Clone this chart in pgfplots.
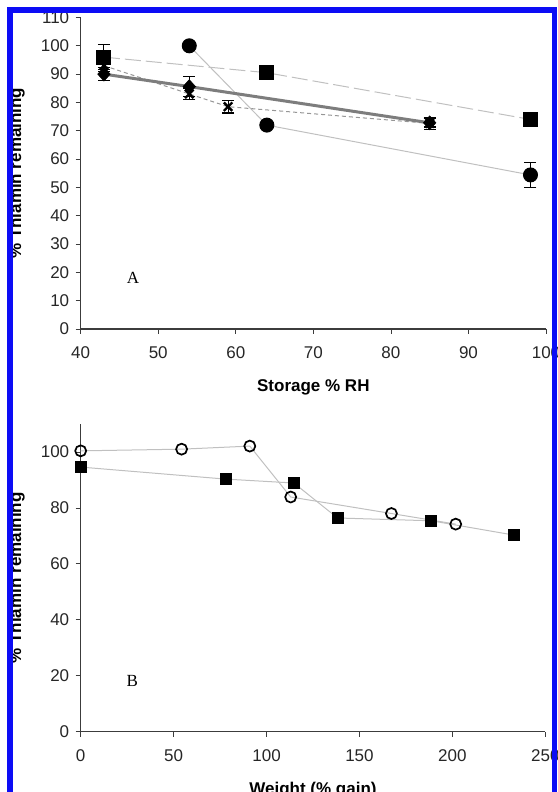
\documentclass[border=0pt]{standalone}
\usepackage{fontspec}
\setmainfont{Liberation Sans}
\newfontfamily\serifA{Liberation Serif}
\usepackage{pgfplots}
\pgfplotsset{compat=1.18}

\definecolor{frameblue}{RGB}{12,12,245}
\definecolor{lgray}{RGB}{192,192,192}
\definecolor{mgray}{RGB}{150,150,150}
\definecolor{dgray}{RGB}{125,125,125}
\definecolor{axgray}{RGB}{60,60,60}

\begin{document}
\begin{tikzpicture}[x=1pt,y=1pt]
\useasboundingbox (0,0) rectangle (557,792);
\clip (0,0) rectangle (557,792);
\pgfplotsset{
  myax/.style={
    scale only axis,
    axis lines=left,
    axis line style={-, axgray, line width=1.1pt},
    tick align=outside,
    major tick length=5pt,
    tick style={axgray, line width=0.8pt},
    ticklabel style={font=\fontsize{17}{19}\selectfont, text=black!85},
    /pgf/number format/assume math mode=true,
    clip=false,
    every axis y label/.style={at={(axis description cs:-0.1283,0.5)}, rotate=90, anchor=base, font=\bfseries\fontsize{17}{20}\selectfont},
    every axis x label/.style={anchor=base, font=\bfseries\fontsize{17}{20}\selectfont},
    xticklabel shift=9pt,
    yticklabel shift=3pt,
  },
  ebar/.style={error bars/.cd, y dir=both, y explicit,
    error bar style={solid, black, line width=1pt},
    error mark options={solid, black, rotate=90, mark size=6pt, line width=1.2pt}},
}

% ---------------- Panel A ----------------
\begin{axis}[myax,
  at={(80.7pt,463pt)}, anchor=south west,
  width=465.3pt, height=311.5pt,
  xmin=40, xmax=100, ymin=0, ymax=110,
  xtick={40,50,...,100}, ytick={0,10,...,110},
  xlabel={Storage \% RH},
  ylabel={\% Thiamin remaining},
  xlabel style={at={(axis description cs:0.5,-0.2022)}},
]
% circles
\addplot[color=lgray, line width=1pt, mark=*, mark size=7pt,
  mark options={fill=black, draw=black}, ebar]
  coordinates {(54,100) +- (0,0) (64,72) +- (0,0) (98,54.4) +- (0,4.3)};
% X series
\addplot[color=mgray, line width=1pt, dash pattern=on 4pt off 3pt,
  mark=x, mark size=6pt,
  mark options={solid, draw=black, line width=2.4pt}, ebar]
  coordinates {(43,93) +- (0,2.1) (54,83) +- (0,2.1) (59,78.5) +- (0,2.2) (85,72.6) +- (0,2.2)};
% squares
\addplot[color=lgray, line width=1pt, dash pattern=on 16pt off 5pt,
  mark=square*, mark size=7pt,
  mark options={solid, fill=black, draw=black}, ebar]
  coordinates {(43,96) +- (0,4.4) (64,90.5) +- (0,0) (98,74) +- (0,0)};
% diamonds
\addplot[color=dgray, line width=3pt,
  mark=diamond*, mark size=7pt,
  mark options={fill=black, draw=black, line width=0.5pt, xscale=1.2}, ebar]
  coordinates {(43,90) +- (0,2.3) (54,85.6) +- (0,3.6) (85,72.8) +- (0,1.5)};
\node[font=\serifA\fontsize{17}{20}\selectfont] at (axis cs:46.74,18.0) {A};
\end{axis}

% ---------------- Panel B ----------------
\begin{axis}[myax,
  at={(80.7pt,60.3pt)}, anchor=south west,
  width=464.6pt, height=307.7pt,
  xmin=0, xmax=250, ymin=0, ymax=110,
  xtick={0,50,...,250}, ytick={0,20,...,100},
  xlabel={Weight (\% gain)},
  ylabel={\% Thiamin remaining},
  xlabel style={at={(axis description cs:0.5,-0.2047)}},
]
\addplot[color=lgray, line width=1pt, mark=square*, mark size=5.5pt,
  mark options={fill=black, draw=black}]
  coordinates {(0,94.6) (78,90.3) (114.7,88.9) (138.2,76.4) (188.7,75.4) (233,70.3)};
\addplot[color=lgray, line width=1pt, mark=o, mark size=5.5pt,
  mark options={draw=black, fill=white, line width=1.7pt}]
  coordinates {(0,100.4) (54.3,101) (91,102.1) (113,83.9) (167.2,78) (201.8,74.2)};
\node[font=\serifA\fontsize{17}{20}\selectfont] at (axis cs:27.8,18.1) {B};
\end{axis}

% blue frame
\draw[frameblue, line width=5.3pt] (10,-10) -- (10,782) -- (554.5,782) -- (554.5,-10);
\end{tikzpicture}
\end{document}
